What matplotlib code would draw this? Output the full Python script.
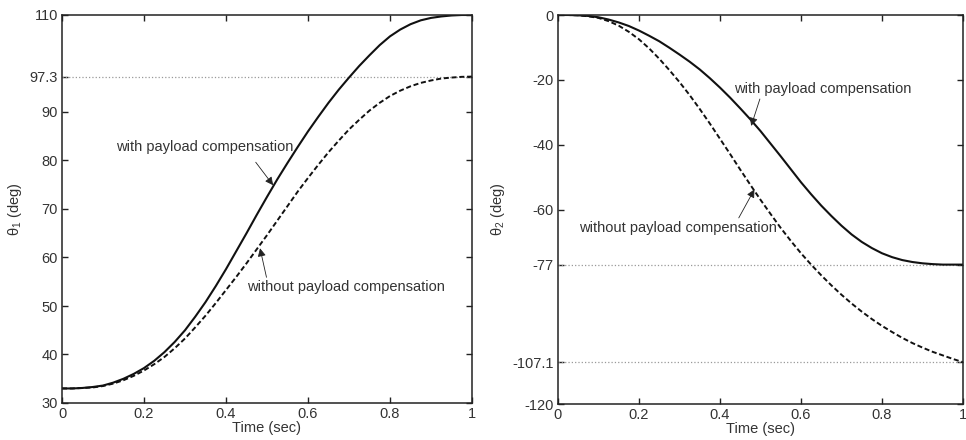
import matplotlib
matplotlib.use("Agg")
import matplotlib.pyplot as plt

plt.rcParams['font.family'] = ['Liberation Sans', 'DejaVu Sans']
plt.rcParams['mathtext.fontset'] = 'custom'
plt.rcParams['mathtext.rm'] = 'Liberation Sans'
plt.rcParams['mathtext.it'] = 'Liberation Sans'

# time samples (sec), every 0.025
t = [0.000, 0.025, 0.050, 0.075, 0.100, 0.125, 0.150, 0.175, 0.200, 0.225,
     0.250, 0.275, 0.300, 0.325, 0.350, 0.375, 0.400, 0.425, 0.450, 0.475,
     0.500, 0.525, 0.550, 0.575, 0.600, 0.625, 0.650, 0.675, 0.700, 0.725,
     0.750, 0.775, 0.800, 0.825, 0.850, 0.875, 0.900, 0.925, 0.950, 0.975, 1.000]

# joint 1 (deg)
th1_with = [33.0, 33.0, 33.1, 33.3, 33.6, 34.2, 35.0, 36.0, 37.2, 38.7,
            40.5, 42.6, 45.0, 47.8, 50.8, 54.1, 57.6, 61.3, 65.0, 68.8,
            72.5, 76.1, 79.5, 82.8, 86.0, 89.0, 91.9, 94.6, 97.1, 99.5,
            101.7, 103.8, 105.6, 107.0, 108.1, 108.9, 109.4, 109.7, 109.9, 110.0, 110.0]
th1_without = [33.0, 33.0, 33.1, 33.2, 33.5, 34.0, 34.7, 35.6, 36.7, 38.0,
               39.5, 41.3, 43.3, 45.6, 48.0, 50.6, 53.3, 56.0, 58.8, 61.7,
               64.6, 67.6, 70.6, 73.6, 76.4, 79.1, 81.7, 84.1, 86.4, 88.4,
               90.3, 91.9, 93.3, 94.4, 95.3, 96.0, 96.5, 96.9, 97.1, 97.25, 97.3]

# joint 2 (deg)
th2_with = [0.0, 0.0, -0.1, -0.3, -0.7, -1.4, -2.3, -3.4, -4.8, -6.4,
            -8.1, -10.1, -12.2, -14.4, -16.8, -19.5, -22.4, -25.5, -28.8, -32.2,
            -35.8, -39.7, -43.6, -47.6, -51.6, -55.3, -58.8, -62.0, -65.0, -67.7,
            -70.0, -71.9, -73.5, -74.7, -75.6, -76.2, -76.6, -76.85, -77.0, -77.0, -77.0]
th2_without = [0.0, 0.0, -0.1, -0.4, -0.9, -1.9, -3.3, -5.2, -7.5, -10.3,
               -13.5, -17.0, -20.7, -24.7, -29.0, -33.5, -38.2, -42.9, -47.7, -52.4,
               -57.0, -61.4, -65.7, -69.7, -73.5, -77.0, -80.3, -83.4, -86.3, -89.0,
               -91.5, -93.8, -95.9, -97.8, -99.6, -101.2, -102.6, -103.9, -105.0, -106.1, -107.1]

final1 = 97.3
final2 = [-77, -107.1]

xticks = [0, 0.2, 0.4, 0.6, 0.8, 1]
xticklabels = ['0', '0.2', '0.4', '0.6', '0.8', '1']
yticks1 = [30, 40, 50, 60, 70, 80, 90, 97.3, 110]
yticks2 = [0, -20, -40, -60, -77, -107.1, -120]

txt = '#333333'

fig = plt.figure(figsize=(9.66, 4.4), dpi=100)
ax1 = fig.add_axes([62/966, 1-403/440, 410/966, 388/440])
ax2 = fig.add_axes([558/966, 1-404/440, 405/966, 389/440])

def style(ax):
    ax.set_xlim(0, 1)
    ax.set_xticks(xticks)
    ax.set_xticklabels(xticklabels)
    ax.tick_params(direction='in', length=4, width=1, top=True, right=True,
                   labelsize=10.5, colors='#222', labelcolor=txt, pad=3)
    for s in ax.spines.values():
        s.set_linewidth(1.1)
        s.set_color('#222')
    ax.set_xlabel('Time (sec)', fontsize=10.5, color=txt, labelpad=0)

arrow = dict(arrowstyle='-|>', color='#222', lw=0.6, mutation_scale=12,
             shrinkA=0, shrinkB=0)

# left panel
ax1.axhline(final1, color='#999', lw=0.9, ls=':')
ax1.plot(t, th1_with, color='#111', lw=1.5)
ax1.plot(t, th1_without, color='#111', lw=1.4, dashes=(2.6, 1.4))
ax1.set_ylim(30, 110)
ax1.set_yticks(yticks1)
ax1.set_yticklabels(['30', '40', '50', '60', '70', '80', '90', '97.3', '110'])
style(ax1)
ax1.set_ylabel(r'θ$_1$ (deg)', fontsize=10.5, color=txt, labelpad=4)
ax1.annotate('with payload compensation', xy=(0.515, 74.9), xytext=(0.349, 82.8),
             ha='center', va='center', fontsize=10.5, color=txt,
             arrowprops=dict(arrow, shrinkA=5, relpos=(0.75, 0.0)))
ax1.annotate('without payload compensation', xy=(0.483, 61.9), xytext=(0.452, 53.9),
             ha='left', va='center', fontsize=10.5, color=txt,
             arrowprops=dict(arrow, relpos=(0.1, 1.0)))

# right panel
for v in final2:
    ax2.axhline(v, color='#999', lw=0.9, ls=':')
ax2.plot(t, th2_with, color='#111', lw=1.5)
ax2.plot(t, th2_without, color='#111', lw=1.4, dashes=(2.6, 1.4))
ax2.set_ylim(-120, 0)
ax2.set_yticks(yticks2)
ax2.set_yticklabels(['0', '-20', '-40', '-60', '-77', '-107.1', '-120'])
style(ax2)
ax2.set_ylabel(r'θ$_2$ (deg)', fontsize=10.5, color=txt, labelpad=4)
ax2.annotate('with payload compensation', xy=(0.477, -34.2), xytext=(0.654, -22.9),
             ha='center', va='center', fontsize=10.5, color=txt,
             arrowprops=dict(arrow, relpos=(0.15, 0.0)))
ax2.annotate('without payload compensation', xy=(0.485, -53.8), xytext=(0.296, -65.6),
             ha='center', va='center', fontsize=10.5, color=txt,
             arrowprops=dict(arrow, relpos=(0.8, 1.0)))

fig.savefig('out.png', dpi=100)
